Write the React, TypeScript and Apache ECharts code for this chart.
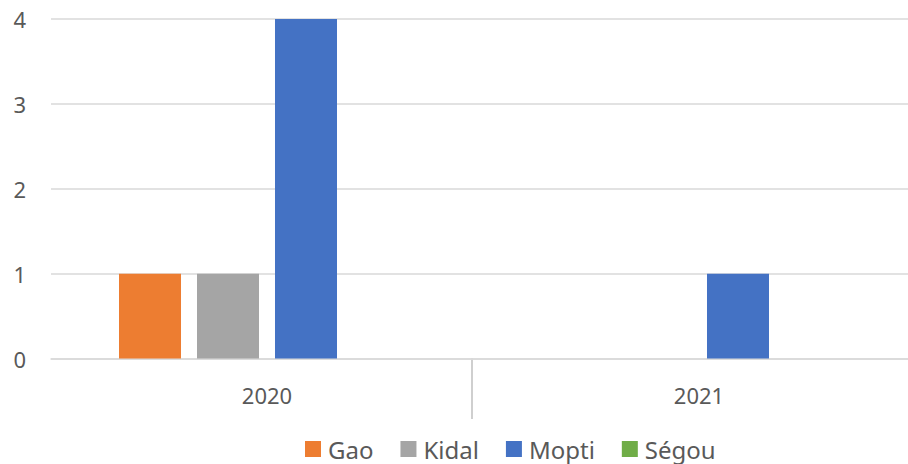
import React, { useEffect, useRef } from "react";
import * as echarts from "echarts";

const categories = ["2020", "2021"];
const seriesNames = ["Gao", "Kidal", "Mopti", "Ségou"];
const gao = [1, 0];
const kidal = [1, 0];
const mopti = [4, 1];
const segou = [0, 0];
const colors = ["#ED7D31", "#A5A5A5", "#4472C4", "#70AD47"];

export default function App() {
  const ref = useRef<HTMLDivElement>(null);
  useEffect(() => {
    if (!ref.current) return;
    const chart = echarts.init(ref.current, undefined, { renderer: "svg" });
    const values = [gao, kidal, mopti, segou];
    const font = "'Noto Sans', sans-serif";
    chart.setOption({
      animation: false,
      color: colors,
      grid: { left: 51, right: 1, top: 19, bottom: 105.5, containLabel: false },
      xAxis: {
        type: "category",
        data: categories,
        axisLine: { show: true, lineStyle: { color: "#D9D9D9", width: 1.5 } },
        axisTick: { show: false },
        axisLabel: { color: "#595959", fontSize: 22, fontFamily: font, margin: 25 },
      },
      yAxis: {
        type: "value",
        min: 0,
        max: 4,
        interval: 1,
        axisLine: { show: false },
        axisTick: { show: false },
        splitLine: { lineStyle: { color: "#D9D9D9", width: 1.5 } },
        axisLabel: { color: "#595959", fontSize: 22, fontFamily: font, margin: 25 },
      },
      legend: {
        left: 300,
        top: 432,
        itemWidth: 16,
        itemHeight: 16,
        itemGap: 27,
        icon: "rect",
        textStyle: {
          color: "#595959",
          fontSize: 24,
          lineHeight: 24,
          fontFamily: font,
          padding: [0, 0, 0, 2],
        },
        data: seriesNames,
      },
      graphic: [
        {
          type: "line",
          shape: { x1: 472, y1: 358, x2: 472, y2: 419 },
          style: { stroke: "#BFBFBF", lineWidth: 1.5 },
        },
      ],
      series: seriesNames.map((name, i) => ({
        name,
        type: "bar",
        data: values[i],
        barWidth: 62,
        barGap: "25.8%",
        itemStyle: { color: colors[i] },
      })),
    });
    return () => chart.dispose();
  }, []);
  return (
    <div
      style={{
        position: "absolute",
        left: 0,
        top: 0,
        width: 908,
        height: 464,
        overflow: "hidden",
        background: "#fff",
      }}
    >
      <div ref={ref} style={{ width: 916, height: 464 }} />
    </div>
  );
}
